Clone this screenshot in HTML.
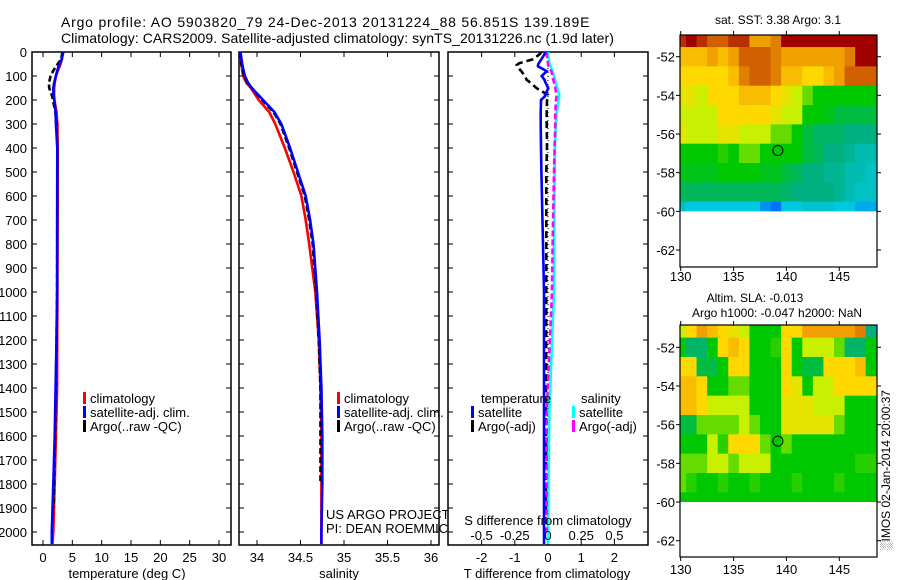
<!DOCTYPE html>
<html><head><meta charset="utf-8">
<style>
html,body{margin:0;padding:0;background:#fff;}
svg{display:block;font-family:"Liberation Sans",sans-serif;}
</style></head>
<body>
<svg id="fig" width="900" height="580" viewBox="0 0 900 580" xmlns="http://www.w3.org/2000/svg">
<text x="61" y="27" font-size="14" letter-spacing="0.8">Argo profile: AO 5903820_79 24-Dec-2013 20131224_88 56.851S 139.189E</text>
<text x="61" y="43" font-size="14" letter-spacing="0.06">Climatology: CARS2009. Satellite-adjusted climatology: synTS_20131226.nc (1.9d later)</text>
<g id="layer"></g>
</svg>
<script>
// ---------- data ----------
const tDepth  = [0,30,50,80,100,130,150,180,200,250,300,400,600,1000,1200,1400,1600,1800,2000,2050];
const tClim   = [3.4,3.2,3.0,2.5,2.2,2.0,1.9,1.9,1.95,2.3,2.45,2.5,2.5,2.45,2.42,2.4,2.2,2.0,1.75,1.6];
const tSat    = [3.46,3.2,2.8,2.4,2.2,1.9,1.76,1.8,1.93,2.15,2.2,2.44,2.42,2.4,2.3,2.15,2.0,1.75,1.5,1.5];
const aDepth  = [0,30,50,80,100,130,150,180,200,250,300,400,600,1000,1400,1600,1800,1900];
const tArgo   = [3.3,3.1,2.5,1.7,1.3,1.0,1.05,1.5,1.7,2.1,2.3,2.45,2.43,2.4,2.2,2.05,1.85,1.8];
const sDepth  = [0,50,100,130,150,200,250,300,400,500,600,700,800,1000,1200,1300,1400,1600,1800,2000,2050];
const sClim   = [33.81,33.82,33.84,33.88,33.93,34.02,34.14,34.21,34.32,34.42,34.51,34.56,34.6,34.67,34.71,34.72,34.73,34.74,34.74,34.74,34.74];
const sSat    = [33.81,33.83,33.86,33.9,33.94,34.07,34.2,34.28,34.38,34.47,34.56,34.61,34.65,34.69,34.72,34.73,34.74,34.75,34.75,34.74,34.74];
const sArgo   = [33.81,33.82,33.85,33.89,33.94,34.06,34.19,34.27,34.37,34.46,34.55,34.6,34.64,34.68,34.71,34.72,34.73,34.73,34.73];
const dDepth  = [0,8,30,47,54,60,75,80,100,117,120,151,179,184,200,256,300,394,500,800,1000,1500,2000,2050];
const dTSat   = [-0.09,-0.1,-0.2,-0.28,-0.3,-0.3,-0.1,-0.04,-0.19,-0.1,-0.1,0.01,-0.09,-0.09,-0.21,-0.22,-0.22,-0.21,-0.2,-0.15,-0.12,-0.12,-0.12,-0.12];
const dTArgo  = [-0.2,-0.24,-0.45,-0.87,-0.94,-0.9,-0.84,-0.8,-0.7,-0.64,-0.6,-0.34,0,0,-0.03,-0.04,-0.04,-0.03,-0.05,-0.05,-0.05,-0.06,-0.06];
const dSSat   = [0,0,0.005,0.012,0.015,0.02,0.03,0.035,0.045,0.053,0.055,0.07,0.085,0.085,0.08,0.065,0.06,0.052,0.05,0.047,0.045,0.01,0.0,0.0];
const dSArgo  = [-0.01,-0.01,-0.005,0,0,0.005,0.02,0.025,0.035,0.04,0.042,0.055,0.065,0.065,0.06,0.055,0.055,0.05,0.045,0.035,0.03,-0.01,-0.01];
const depthTicks = [0,100,200,300,400,500,600,700,800,900,1000,1100,1200,1300,1400,1500,1600,1700,1800,1900,2000];
const tTicks = [0,5,10,15,20,25,30];
const sTicks = [34,34.5,35,35.5,36];
const sTickLabels = ["34","34.5","35","35.5","36"];
const dTTicks = [-2,-1,0,1,2];
const dSTicks = [-0.5,-0.25,0,0.25,0.5];
const dSTickLabels = ["-0.5","-0.25","0","0.25","0.5"];
const mapLons = [130,131,132,133,134,135,136,137,138,139,140,141,142,143,144,145,146,147,148];
const mapLats = [-51,-52,-53,-54,-55,-56,-57,-58,-59,-60];
const lonTicks = [130,135,140,145];
const latTicks = [-52,-54,-56,-58,-60,-62];
const sstGrid = [
 [6.5,7,6.5,6,6,6.5,6.5,5,5,5.5,7,7,7,7,7,7,7,7,7],
 [4.5,4.5,4.5,5,4.5,5,6,6,6,5.5,5,5,5,5,5,5,5.5,7,7],
 [4,4,4,4,4,4.5,5.5,6,6,5.5,4.5,4.5,4,4,4.5,5,6,6,6],
 [3.5,3.5,3,4,4,4,4.5,4.5,4.5,4,3.5,3,2.5,2,2,2,2,2,2],
 [3,3,3,3,4,4,4,4,4,3.5,3,3,2,2,1.8,1.5,1.5,1.5,1.5],
 [3.5,3,3,3,3.5,3.5,3,3,3,2.5,2.5,2,1.5,1.2,1.2,1.2,1,1,1],
 [2,2,2,2,2.2,2,2.5,2.5,2,2,2,2,1.5,1.3,1,1,0.8,0.5,0.5],
 [1.8,1.8,1.8,1.8,2,2,2,2,1.8,1.8,1.5,1.3,1,1,0.8,0.8,0.5,0.5,0.3],
 [1.3,1.3,1.3,1.3,1.3,1.3,1.3,1.3,1.3,1.3,1.2,1,1,1,1,0.8,0.5,0.3,0.3],
 [0.3,0,0,0,0,0,0,0,-0.5,-0.8,0,0,0.2,0.2,0.2,0,0,-0.3,-0.3]
];
const slaGrid = [
 [3,4,5,4.5,4,3.5,3,2,2,2,4,4,5,5,5,5,5,5.5,1],
 [2,1.2,1.2,2,4,4.5,4,2,2,2.2,4,2,3,3,3,2.5,1.2,1.2,2],
 [4,4,1.5,1.5,2,4,4,2,2,2,4,2,1.5,1.5,4,4,4,4.5,2],
 [4.5,4.5,4,2,2,2.5,2.5,2,2,2,4,3.5,2,3,3,4,4,4,4],
 [4.5,4.5,4,3,3,3,3,2,2,2,3.5,3.5,3.5,3,3,3,2,2,2],
 [1.5,1.5,2.5,2.5,2.5,2.5,3,2.5,2,2,3.5,3.5,3.5,3.5,3.5,2.5,2,2,2],
 [2,2,2,3,2.2,4,4,4,2.5,2,2.5,2,2,2,2,2,2,2,2],
 [2.5,2.5,2.5,3,3,2.5,3,3,3,2,2,2,2,2,2,2,2,2.2,2.2],
 [2.5,2.2,2,2,2.2,2,2,2.2,2,2,2,2.2,2,2,2,2.2,2,2,2],
 [2,2,2,2,2,2,2,2,2,2,2,2,2,2,2,2,2,2,2]
];
const argoPos = [139.189,-56.851];

// ---------- helpers ----------
const NS = "http://www.w3.org/2000/svg";
const layer = document.getElementById('layer');
function mk(tag, attrs, parent) {
  const e = document.createElementNS(NS, tag);
  for (const k in attrs) e.setAttribute(k, attrs[k]);
  (parent || layer).appendChild(e);
  return e;
}
function txt(x, y, s, size, anchor, parent) {
  const t = mk('text', {x:x, y:y, 'font-size':size, 'text-anchor':anchor||'start'}, parent);
  t.textContent = s;
  return t;
}
function lin(d0, d1, r0, r1) { return v => r0 + (v - d0) * (r1 - r0) / (d1 - d0); }

const yD = lin(0, 2000, 52, 532);
const PT = 52, PB = 545;

function panel(name, x0, x1) {
  const g = mk('g', {});
  
  
  mk('rect', {x:x0, y:PT, width:x1-x0, height:PB-PT, fill:'#fff', stroke:'#000', 'stroke-width':1.5}, g);
  depthTicks.forEach(d => {
    mk('line', {x1:x0, x2:x0+5, y1:yD(d), y2:yD(d), stroke:'#000'}, g);
    mk('line', {x1:x1-5, x2:x1, y1:yD(d), y2:yD(d), stroke:'#000'}, g);
  });
  return g;
}
function xTicks(g, ticks, labels, sx, ly) {
  ticks.forEach((v,i) => {
    const x = sx(v);
    mk('line', {x1:x, x2:x, y1:PB-5, y2:PB, stroke:'#000'}, g);
    mk('line', {x1:x, x2:x, y1:PT, y2:PT+5, stroke:'#000'}, g);
    if (ly) txt(x, ly, labels[i], 13, 'middle', g);
  });
}
function profile(g, name, depths, vals, sx, color, dash) {
  let d = '';
  vals.forEach((v,i) => { d += (i ? 'L' : 'M') + sx(v).toFixed(1) + ' ' + yD(depths[i]).toFixed(1); });
  const p = mk('path', {d:d, fill:'none', stroke:color, 'stroke-width':2.6});
  if (dash) p.setAttribute('stroke-dasharray', dash);
  g.appendChild(p);
  
  
}
function legendEntry(g, x, y, color, label) {
  mk('rect', {x:x, y:y-11, width:3, height:12, fill:color}, g);
  txt(x+7, y, label, 13, 'start', g);
}

// ---------- panel 1: temperature ----------
const sxT = lin(0, 30, 43, 219);
const g1 = panel('temperature-panel', 32, 231);
depthTicks.forEach(d => {
  const t = txt(27, yD(d)+5, String(d), 13, 'end');
  
  
});
xTicks(g1, tTicks, tTicks.map(String), sxT, 562);
profile(g1, 'temp-climatology-line', tDepth, tClim, sxT, '#ff0000');
profile(g1, 'temp-argo-line', aDepth, tArgo, sxT, '#000', '6 3');
profile(g1, 'temp-satellite-line', tDepth, tSat, sxT, '#0000ff');
txt(127, 578, 'temperature (deg C)', 13, 'middle', g1);
legendEntry(g1, 83, 403, '#ff0000', 'climatology');
legendEntry(g1, 83, 417, '#0000ff', 'satellite-adj. clim.');
legendEntry(g1, 83, 431, '#000', 'Argo(..raw -QC)');

// ---------- panel 2: salinity ----------
const sxS = lin(34, 36, 257, 431);
const g2 = panel('salinity-panel', 239, 439);
xTicks(g2, sTicks, sTickLabels, sxS, 562);
profile(g2, 'sal-climatology-line', sDepth, sClim, sxS, '#ff0000');
profile(g2, 'sal-argo-line', sDepth.slice(0, sArgo.length), sArgo, sxS, '#000', '6 3');
profile(g2, 'sal-satellite-line', sDepth, sSat, sxS, '#0000ff');
txt(339, 578, 'salinity', 13, 'middle', g2);
legendEntry(g2, 337, 403, '#ff0000', 'climatology');
legendEntry(g2, 337, 417, '#0000ff', 'satellite-adj. clim.');
legendEntry(g2, 337, 431, '#000', 'Argo(..raw -QC)');
txt(326, 519, 'US ARGO PROJECT', 13, 'start', g2);
txt(326, 533, 'PI: DEAN ROEMMICH', 13, 'start', g2);

// ---------- panel 3: differences ----------
const sxDT = lin(-2, 2, 481.6, 614.4);
const sxDS = lin(-0.5, 0.5, 481.6, 614.4);
const g3 = panel('difference-panel', 448, 648);
xTicks(g3, dTTicks, dTTicks.map(String), sxDT, 562);
mk('line', {x1:sxDT(0), x2:sxDT(0), y1:PT, y2:PB, stroke:'#000', 'stroke-dasharray':'1 3'}, g3);
profile(g3, 'diff-t-argo-line', dDepth.slice(0, dTArgo.length), dTArgo, sxDT, '#000', '7 4');
profile(g3, 'diff-s-satellite-line', dDepth, dSSat, sxDS, '#00ffff');
profile(g3, 'diff-s-argo-line', dDepth.slice(0, dSArgo.length), dSArgo, sxDS, '#ff00ff', '6 3');
profile(g3, 'diff-t-satellite-line', dDepth, dTSat, sxDT, '#0000ff');
txt(481, 403, 'temperature', 13, 'start', g3);
legendEntry(g3, 471, 417, '#0000ff', 'satellite');
legendEntry(g3, 471, 431, '#000', 'Argo(-adj)');
txt(581, 403, 'salinity', 13, 'start', g3);
legendEntry(g3, 572, 417, '#00ffff', 'satellite');
legendEntry(g3, 572, 431, '#ff00ff', 'Argo(-adj)');
txt(548, 525, 'S difference from climatology', 13, 'middle', g3);
dSTicks.forEach((v,i) => txt(sxDS(v), 540, dSTickLabels[i], 13, 'middle', g3));
txt(547, 578, 'T difference from climatology', 13, 'middle', g3);

// ---------- maps ----------
const stops = [[-1,[0,96,255]],[0,[0,200,224]],[1,[0,176,128]],[2,[0,200,0]],[3,[200,240,0]],[4,[255,216,0]],[5,[240,160,0]],[6,[208,96,0]],[7,[160,0,0]]];
function cmap(v) {
  if (v <= stops[0][0]) return 'rgb(' + stops[0][1] + ')';
  for (let i = 1; i < stops.length; i++) {
    if (v <= stops[i][0]) {
      const a = stops[i-1], b = stops[i], f = (v - a[0]) / (b[0] - a[0]);
      return 'rgb(' + a[1].map((c,k) => Math.round(c + (b[1][k]-c)*f)).join(',') + ')';
    }
  }
  return 'rgb(' + stops[stops.length-1][1] + ')';
}
const sxLon = lin(130, 145, 680.7, 839.3);
function drawMap(name, grid, top, lat52, lat62, xlblY) {
  const syLat = lin(-52, -62, lat52, lat62);
  const x0 = 680, x1 = 877, bottom = top + 232;
  const g = mk('g', {});
  
  
  const cid = name + '-clip';
  const cp = mk('clipPath', {id:cid}, g);
  mk('rect', {x:x0, y:top, width:x1-x0, height:syLat(-60)-top}, cp);
  const cells = mk('g', {'clip-path':'url(#' + cid + ')'}, g);
  grid.forEach((row, r) => row.forEach((v, c) => {
    const xa = sxLon(mapLons[c]-0.5), xb = sxLon(mapLons[c]+0.5);
    const ya = syLat(mapLats[r]+0.5), yb = syLat(mapLats[r]-0.5);
    const cell = mk('rect', {x:xa, y:ya, width:xb-xa+0.5, height:yb-ya+0.5, fill:cmap(v)}, cells);
    
    
  }));
  mk('rect', {x:x0, y:top, width:x1-x0, height:bottom-top, fill:'none', stroke:'#000', 'stroke-width':1.2}, g);
  lonTicks.forEach(l => {
    const x = sxLon(l);
    mk('line', {x1:x, x2:x, y1:top-4, y2:top, stroke:'#000'}, g);
    mk('line', {x1:x, x2:x, y1:bottom, y2:bottom+4, stroke:'#000'}, g);
    txt(x, xlblY, String(l), 13, 'middle', g);
  });
  latTicks.forEach(l => {
    const y = syLat(l);
    mk('line', {x1:x0-4, x2:x0, y1:y, y2:y, stroke:'#000'}, g);
    mk('line', {x1:x1, x2:x1+4, y1:y, y2:y, stroke:'#000'}, g);
    txt(x0-5, y+5, String(l), 13, 'end', g);
  });
  const m = mk('circle', {cx:sxLon(argoPos[0]), cy:syLat(argoPos[1]), r:5, fill:'none', stroke:'#000', 'stroke-width':1}, g);
  
  
}
drawMap('sst-map', sstGrid, 35, 56.7, 250, 281);
drawMap('sla-map', slaGrid, 325, 347.3, 540.7, 574);
txt(778, 24, 'sat. SST: 3.38 Argo: 3.1', 12, 'middle');
txt(755, 302, 'Altim. SLA: -0.013', 12, 'middle');
txt(777, 317, 'Argo h1000: -0.047 h2000: NaN', 12, 'middle');
const vt = txt(0, 0, '\u2591IMOS 02-Jan-2014 20:00:37', 12, 'start');
vt.setAttribute('transform', 'translate(890,550) rotate(-90)');


</script>
</body></html>
